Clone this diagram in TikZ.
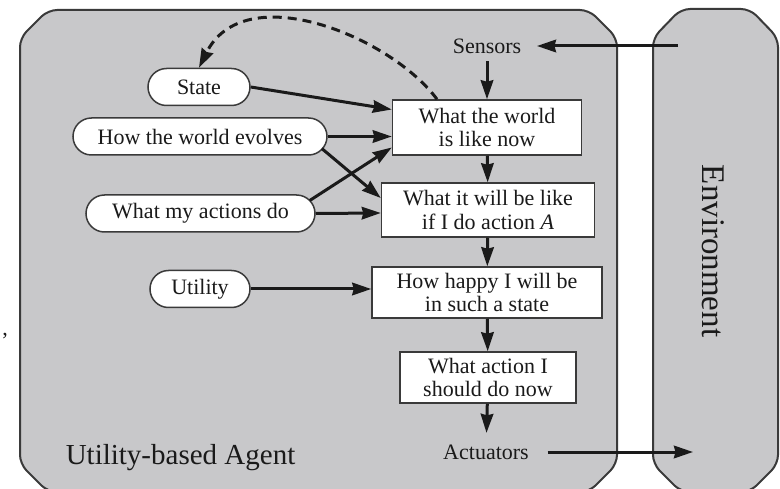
\documentclass[tikz,border=0pt]{standalone}
\usepackage{fontspec}
\setmainfont{Liberation Serif}
\usetikzlibrary{arrows.meta, positioning, shapes.misc}
\definecolor{agray}{HTML}{C8C8CA}
\definecolor{aline}{HTML}{3A3A3A}
\definecolor{atext}{HTML}{1A1A1A}
\tikzset{
  every picture/.style={line width=1.5pt},
  panel/.style={draw=aline, fill=agray, line width=2pt, rounded corners=9pt},
  box/.style={draw=aline, fill=white, line width=1.5pt, align=center, inner sep=0pt, text=atext, font=\fontsize{22}{23.5}\selectfont},
  pill/.style={draw=aline, fill=white, rounded rectangle, line width=1.5pt, inner sep=0pt, minimum height=37pt, text=atext, font=\fontsize{22}{23.5}\selectfont},
  port/.style={text=atext, font=\fontsize{22}{24}\selectfont, inner xsep=15pt, inner ysep=7pt},
  arrow/.style={-{Stealth[length=19pt, width=12.5pt, inset=1.5pt]}, draw=atext, line width=3pt},
}

\begin{document}
\begin{tikzpicture}[x=1pt, y=-1pt]
  \useasboundingbox (0,0) rectangle (780,489);
  \draw[panel] (20,250) -- (20,38) -- (48,10) -- (589,10) -- (617,38) -- (617,464) -- (589,492) -- (48,492) -- (20,464) -- cycle;
  \draw[panel] (653,250) -- (653,38) -- (681,9) -- (750,9) -- (778,38) -- (778,464) -- (750,492) -- (681,492) -- (653,464) -- cycle;

  \node[port] (sens) at (487,46) {Sensors};
  \node[box, minimum width=189pt, minimum height=55pt] (world) at (487,127.5) {What the world\\is like now};
  \node[box, minimum width=213pt, minimum height=54pt] (will) at (488,210) {What it will be like\\if I do action \textit{A}};
  \node[box, minimum width=230pt, minimum height=51pt] (happy) at (487,292.5) {How happy I will be\\in such a state};
  \node[box, minimum width=176pt, minimum height=51pt] (choose) at (488,377.5) {What action I\\should do now};
  \node[port, inner xsep=18pt, inner ysep=11pt] (actu) at (486,452) {Actuators};

  \node[pill, minimum width=102pt] (state) at (199,87) {State};
  \node[pill, minimum width=254pt] (evolve) at (200,136.5) {How the world evolves};
  \node[pill, minimum width=229pt] (acts) at (200.5,213.5) {What my actions do};
  \node[pill, minimum width=100pt] (util) at (200,289) {Utility};

  \node[rotate=-90, text=atext, font=\fontsize{33}{36}\selectfont] (envlbl) at (713,251) {Environment};
  \node[anchor=west, inner sep=0pt, text=atext, font=\fontsize{29}{32}\selectfont] (agentlbl) at (65,458) {Utility-based Agent};
  \node[inner sep=0pt, text=atext, font=\fontsize{22}{23}\selectfont] (comma) at (5,336) {,};

  \coordinate (envin) at (678,46);
  \coordinate (envout) at (693,452);

  \draw[arrow] (envin) -- (sens);
  \foreach \a/\b in {sens/world, world/will, will/happy, happy/choose, choose/actu} \draw[arrow] (\a) -- (\b);
  \draw[arrow] (actu) -- (envout);

  \draw[arrow] (state.east) -- ([yshift=18pt]world.west);
  \draw[arrow] (evolve.east) -- ([yshift=-9pt]world.west);
  \draw[arrow] ([xshift=-6pt,yshift=13pt]acts.east) -- ([yshift=-20pt]world.west);
  \draw[arrow] ([xshift=-6pt,yshift=-12pt]evolve.east) -- ([yshift=12pt]will.west);
  \draw[arrow] (acts.east) -- ([yshift=-3pt]will.west);
  \draw[arrow] (util.east) -- (happy.west |- util.east);
  \draw[arrow, dash pattern=on 9pt off 6pt] ([xshift=-50pt]world.north) .. controls (390,36) and (244,-23) .. (state.north);
\end{tikzpicture}
\end{document}
